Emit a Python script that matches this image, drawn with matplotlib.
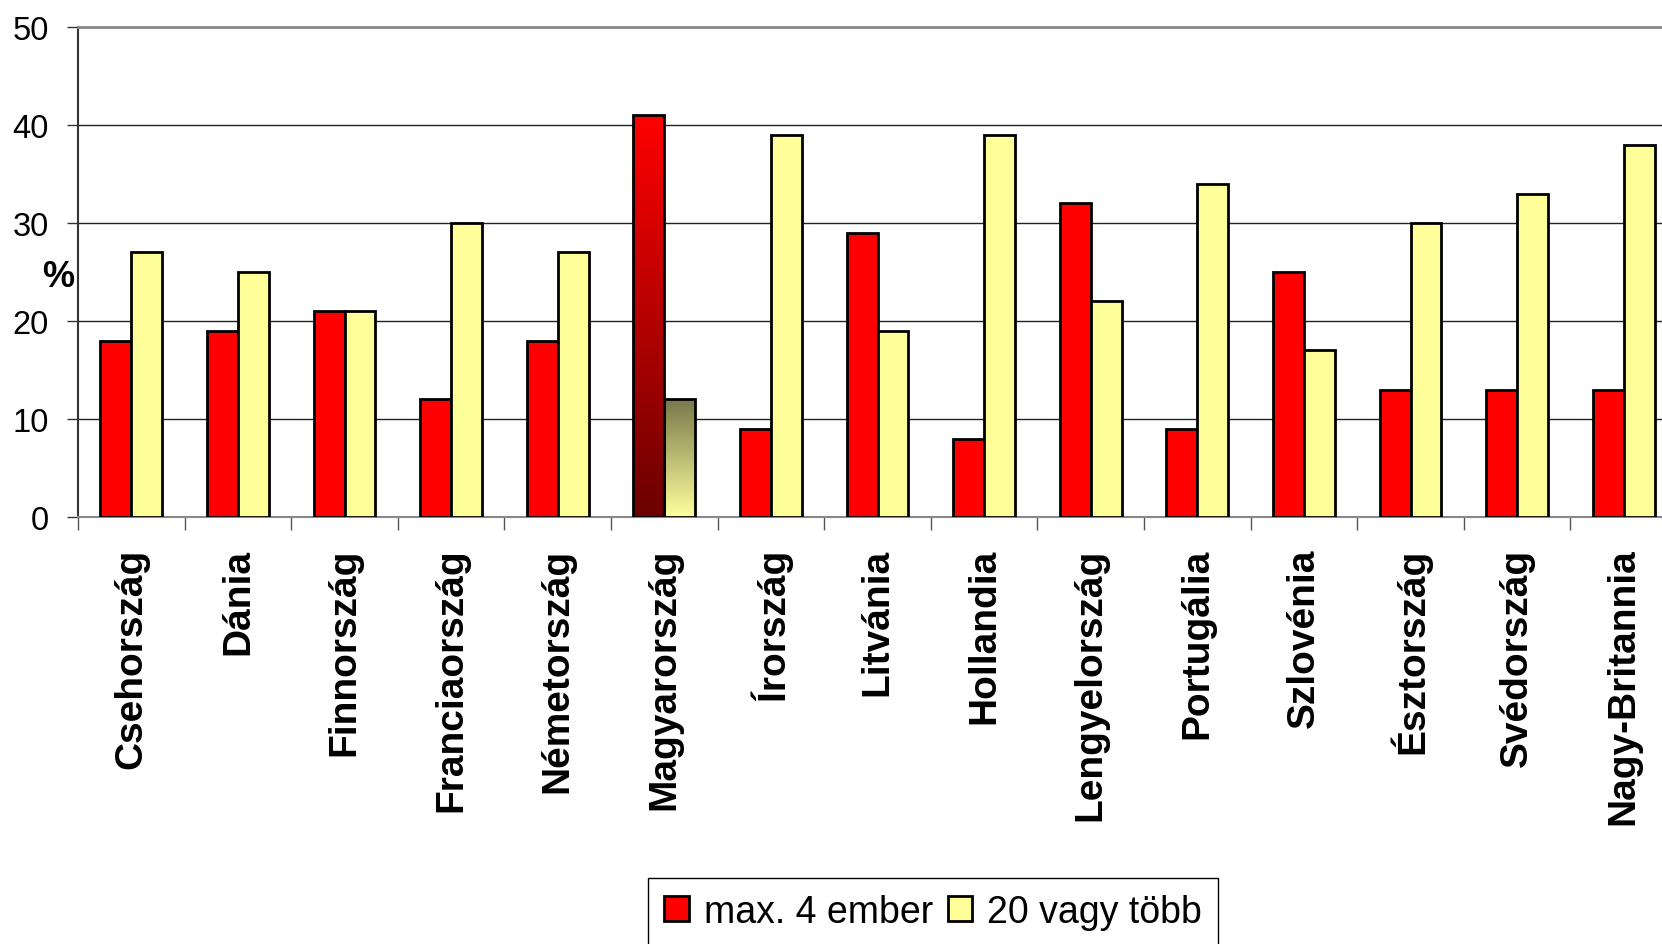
import numpy as np
import matplotlib
matplotlib.use("Agg")
import matplotlib.pyplot as plt
from matplotlib.patches import Patch

countries = ["Csehország", "Dánia", "Finnország", "Franciaország", "Németország",
             "Magyarország", "Írország", "Litvánia", "Hollandia", "Lengyelország",
             "Portugália", "Szlovénia", "Észtország", "Svédország", "Nagy-Britannia"]
small_groups = [18, 19, 21, 12, 18, 41, 9, 29, 8, 32, 9, 25, 13, 13, 13]
large_groups = [27, 25, 21, 30, 27, 12, 39, 19, 39, 22, 34, 17, 30, 33, 38]
series_names = ["max. 4 ember", "20 vagy több"]
yticks = [0, 10, 20, 30, 40, 50]
highlight = "Magyarország"

RED = "#FF0000"
YELLOW = "#FFFF99"

plt.rcParams["font.family"] = ["Liberation Sans", "DejaVu Sans"]

W, H, DPI = 1662, 945, 100
fig = plt.figure(figsize=(W / DPI, H / DPI), dpi=DPI)
# plot area runs past the right edge, like the cropped original
ax = fig.add_axes([78 / W, 1 - 518 / H, (1677 - 78) / W, (518 - 28) / H])

x = np.arange(len(countries))
bw = 0.29
bars_a = ax.bar(x - bw / 2, small_groups, bw, color=RED, edgecolor="black", linewidth=2.0, zorder=3)
bars_b = ax.bar(x + bw / 2, large_groups, bw, color=YELLOW, edgecolor="black", linewidth=2.0, zorder=3)


def gradient_fill(bar, top_rgb, bottom_rgb):
    x0, y0 = bar.get_x(), bar.get_y()
    w, h = bar.get_width(), bar.get_height()
    t = np.linspace(0, 1, 256)[:, None]
    img = (1 - t) * np.array(top_rgb) + t * np.array(bottom_rgb)
    img = np.repeat(img[:, None, :], 2, axis=1)
    im = ax.imshow(img, extent=(x0, x0 + w, y0, y0 + h), origin="upper",
                   aspect="auto", zorder=3.5, interpolation="bilinear")
    im.set_clip_path(bar)
    bar.set_facecolor("none")
    bar.set_zorder(4)


i = countries.index(highlight)
gradient_fill(bars_a[i], (1.0, 0.0, 0.0), (0.42, 0.0, 0.0))
gradient_fill(bars_b[i], (0.47, 0.47, 0.29), (1.0, 1.0, 0.62))

ax.set_xlim(-0.5, len(countries) - 0.5)
ax.set_ylim(0, 50)
ax.set_yticks(yticks)
ax.set_yticklabels([str(v) for v in yticks], fontsize=23.5)
ax.tick_params(axis="y", length=8, width=1, color="#333333", pad=13)

ax.set_xticks(x)
ax.set_xticklabels(countries, rotation=90, fontsize=28, fontweight="bold", va="top", ha="center")
ax.tick_params(axis="x", which="major", length=0, pad=22)
ax.set_xticks(np.arange(len(countries) + 1) - 0.5, minor=True)
ax.tick_params(axis="x", which="minor", length=9, width=1, color="#555555")

ax.yaxis.grid(True, color="#222222", linewidth=1)
ax.set_axisbelow(True)
ax.spines["right"].set_visible(False)
ax.spines["top"].set_color("#888888")
ax.spines["top"].set_linewidth(2)
ax.spines["bottom"].set_color("#888888")
ax.spines["bottom"].set_linewidth(1.5)
ax.spines["left"].set_color("#333333")
ax.spines["left"].set_linewidth(1.5)

fig.text(58 / W, 1 - 278 / H, "%", fontsize=26, fontweight="bold", ha="center", va="center")

handles = [Patch(facecolor=RED, edgecolor="black", linewidth=2.0),
           Patch(facecolor=YELLOW, edgecolor="black", linewidth=2.0)]
leg = fig.legend(handles, series_names, loc="upper left",
                 bbox_to_anchor=(648 / W, 1 - 879 / H), ncol=2, fontsize=27,
                 frameon=True, fancybox=False, framealpha=1, edgecolor="black",
                 borderaxespad=0, borderpad=0.42, handlelength=0.66, handleheight=0.66,
                 handletextpad=0.4, columnspacing=0.4)
leg.get_frame().set_linewidth(1)

fig.savefig("out.png", dpi=DPI)
